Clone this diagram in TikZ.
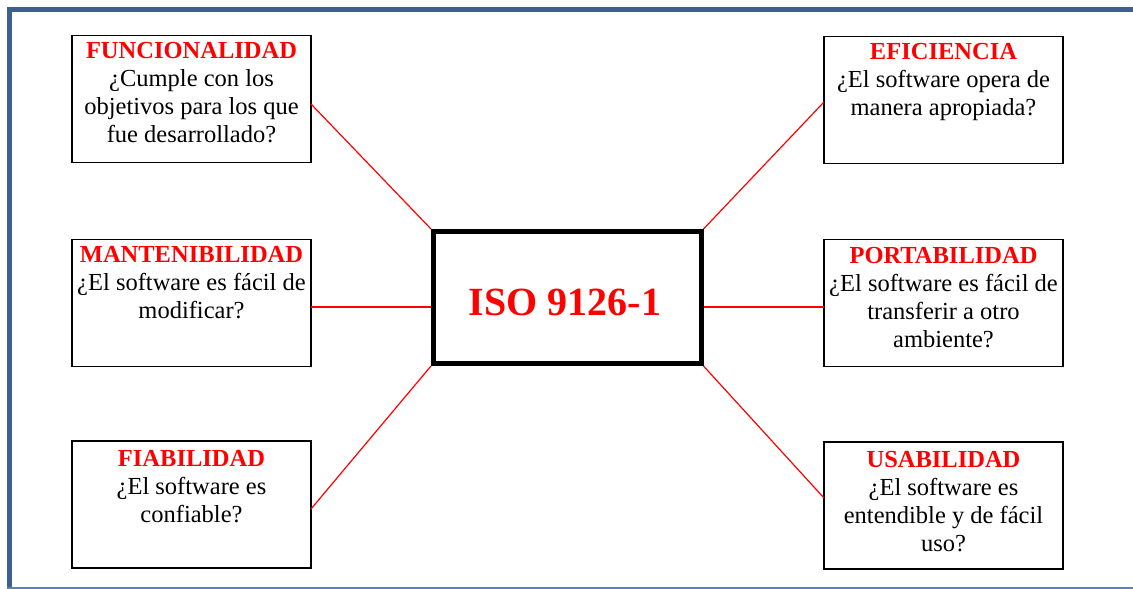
\documentclass[tikz,border=0pt]{standalone}
\usepackage{fontspec}
\setmainfont{Liberation Serif}
\definecolor{frameblue}{RGB}{62,96,145}
\definecolor{framelight}{RGB}{95,130,175}
\begin{document}
\begin{tikzpicture}[x=1pt,y=-1pt,
  qbox/.style={draw=black, line width=1.2pt, minimum width=239pt, minimum height=127pt, inner sep=0pt, outer sep=0pt},
  qtext/.style={anchor=north, align=center, inner sep=0pt, font=\fontsize{24.5}{28}\selectfont},
  qtitle/.style={font=\bfseries, text=red},
  link/.style={draw=red, line width=1.2pt}]
\useasboundingbox (0,0) rectangle (1133,589);
% frame
\draw[frameblue, line width=5pt] (9.5,589) -- (9.5,9.5) -- (1133,9.5);
\draw[framelight, line width=1.5pt] (7,588) -- (1133,588);
% boxes
\node[qbox] (fun) at (191.5,99) {};
\node[qbox] (man) at (191.5,303) {};
\node[qbox] (fia) at (191.5,504.5) {};
\node[qbox] (efi) at (943.5,100) {};
\node[qbox] (por) at (943.5,303) {};
\node[qbox] (usa) at (943.5,505.5) {};
% texts
\node[qtext] (funt) at ([yshift=-7pt]fun.north) {{\bfseries\color{red}FUNCIONALIDAD}\\¿Cumple con los\\objetivos para los que\\fue desarrollado?};
\node[qtext] (mant) at ([yshift=-7pt]man.north) {{\bfseries\color{red}MANTENIBILIDAD}\\¿El software es fácil de\\modificar?};
\node[qtext] (fiat) at ([yshift=-9pt]fia.north) {{\bfseries\color{red}FIABILIDAD}\\¿El software es\\confiable?};
\node[qtext] (efit) at ([yshift=-7pt]efi.north) {{\bfseries\color{red}EFICIENCIA}\\¿El software opera de\\manera apropiada?};
\node[qtext] (port) at ([yshift=-8pt]por.north) {{\bfseries\color{red}PORTABILIDAD}\\¿El software es fácil de\\transferir a otro\\ambiente?};
\node[qtext] (usat) at ([yshift=-9pt]usa.north) {{\bfseries\color{red}USABILIDAD}\\¿El software es\\entendible y de fácil\\uso?};
% center
\node[draw=black, line width=5pt, minimum width=267.5pt, minimum height=132pt, inner sep=0pt, outer sep=2.5pt] (iso) at (567.25,297.5) {};
\node[inner sep=0pt, text=red, font=\fontsize{40}{44}\selectfont\bfseries] (isot) at (565,302.5) {ISO 9126-1};
% links
\draw[link] ([yshift=-5pt]fun.east) -- (iso.north west);
\draw[link] ([yshift=-4pt]man.east) -- ([yshift=-9.5pt]iso.west);
\draw[link] ([yshift=-4.5pt]fia.east) -- (iso.south west);
\draw[link] ([yshift=-2pt]efi.west) -- (iso.north east);
\draw[link] ([yshift=-4pt]por.west) -- ([yshift=-9.5pt]iso.east);
\draw[link] ([yshift=7.5pt]usa.west) -- (iso.south east);
\end{tikzpicture}
\end{document}
